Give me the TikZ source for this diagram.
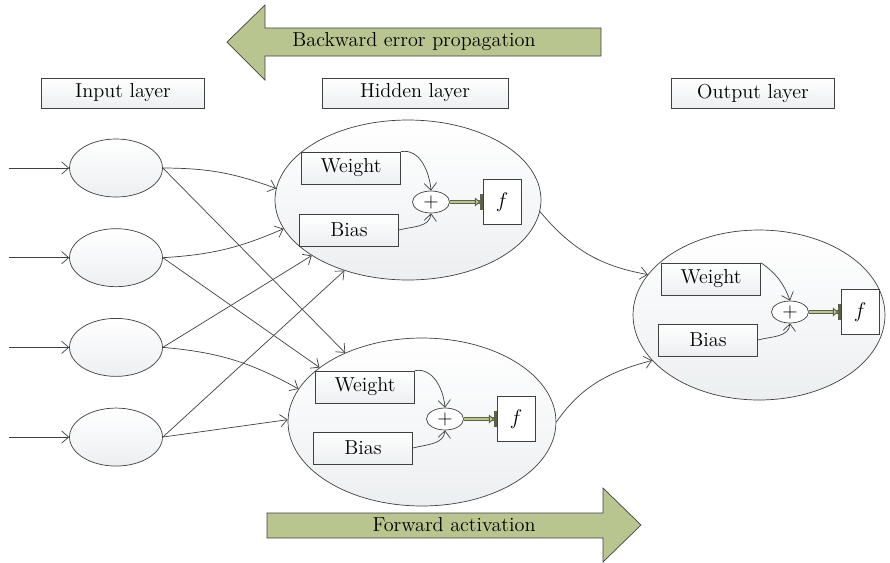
\documentclass[tikz,border=0pt]{standalone}
\usepackage{xcolor}
\definecolor{olive_arrow}{RGB}{185,197,143}
\definecolor{line_gray}{RGB}{64,64,64}
\definecolor{fill_gray}{RGB}{236,239,241}
\usepackage{tikz}
\usetikzlibrary{arrows.meta,positioning,shapes.geometric}

\begin{document}
\begin{tikzpicture}
[	x=0.02cm, y=-0.02cm,
	font=\fontsize{11.5}{13}\selectfont,
	unit/.style = {ellipse, draw=line_gray, top color=white, bottom color=fill_gray, inner sep=0},
	box/.style = {rectangle, draw=line_gray, top color=white, bottom color=fill_gray, minimum width=1.98cm, minimum height=0.64cm, inner sep=0},
	layerbox/.style = {box, minimum width=3.26cm, minimum height=0.6cm},
	sum/.style = {ellipse, draw=line_gray, fill=white, minimum width=0.74cm, minimum height=0.44cm, inner sep=0},
	fbox/.style = {rectangle, draw=line_gray, fill=white, minimum width=0.76cm, minimum height=0.9cm, inner sep=0},
	link/.style = {draw=line_gray, -{Straight Barb[length=4pt,width=7pt]}},
	feed/.style = {draw=olive_arrow!50!black, double=olive_arrow, double distance=0.9pt, line width=0.5pt, -{Triangle[length=3pt,width=5pt,fill=olive_arrow] Bar[width=9pt,length=1.5pt,line width=1.2pt]}},
	bigarrow/.style = {draw=line_gray, fill=olive_arrow}
]
\useasboundingbox (0,0) rectangle (890,562);

\draw[bigarrow] (601,28) -- (265,28) -- (265,5) -- (227,42) -- (265,80) -- (265,56) -- (601,56) -- cycle;
\node (back) at (414,42) {Backward error propagation};
\draw[bigarrow] (267,513) -- (603,513) -- (603,488) -- (641,525) -- (603,562) -- (603,538) -- (267,538) -- cycle;
\node (fwd) at (454,525) {Forward activation};

\node[layerbox] (inlabel) at (123,93) {Input layer};
\node[layerbox, minimum width=3.72cm] (hidlabel) at (415,93) {Hidden layer};
\node[layerbox] (outlabel) at (753,93) {Output layer};

\node[unit, minimum width=1.86cm, minimum height=1.16cm] (in1) at (116,168) {};
\node[unit, minimum width=1.86cm, minimum height=1.16cm, below=0.62cm of in1] (in2) {};
\node[unit, minimum width=1.86cm, minimum height=1.16cm, below=0.62cm of in2] (in3) {};
\node[unit, minimum width=1.86cm, minimum height=1.16cm, below=0.62cm of in3] (in4) {};

\node[unit, minimum width=5.32cm, minimum height=3.2cm] (h1) at (408,200) {};
\node[unit, minimum width=5.36cm, minimum height=3.36cm] (h2) at (422,422) {};
\node[unit, minimum width=5.04cm, minimum height=3.4cm] (out) at (759,315) {};

\node[box] (w1) at (351,168) {Weight};
\node[box] (b1) at (349,230) {Bias};
\node[sum] (p1) at (431,202) {+};
\node[fbox, right=0.66cm of p1] (f1) {$f$};

\node[box] (w2) at (365,387) {Weight};
\node[box] (b2) at (363,448) {Bias};
\node[sum] (p2) at (445,419) {+};
\node[fbox, right=0.66cm of p2] (f2) {$f$};

\node[box] (w3) at (711,279) {Weight};
\node[box] (b3) at (708,340) {Bias};
\node[sum] (p3) at (790,312) {+};
\node[fbox, right=0.64cm of p3] (f3) {$f$};

\coordinate[left=1.2cm of in1.west] (s1);
\coordinate[left=1.2cm of in2.west] (s2);
\coordinate[left=1.2cm of in3.west] (s3);
\coordinate[left=1.2cm of in4.west] (s4);

\draw[link] (s1) -- (in1);
\draw[link] (s2) -- (in2);
\draw[link] (s3) -- (in3);
\draw[link] (s4) -- (in4);

\draw[link] (in1.east) to[bend left=10] (h1.175);
\draw[link] (in1.east) -- (h2.138);
\draw[link] (in2.east) to[bend right=10] (h1.193);
\draw[link] (in2.east) -- (h2.152);
\draw[link] (in3.east) -- (h1.210);
\draw[link] (in3.east) to[bend left=12] (h2.165);
\draw[link] (in4.east) -- (h1.228);
\draw[link] (in4.east) -- (h2.179);

\draw[link] (w1.north east) to[out=10,in=95] (p1.north);
\draw[link] (b1.east) to[out=15,in=-95] (p1.south);
\draw[feed] (p1) -- (f1);
\draw[link] (w2.north east) to[out=10,in=95] (p2.north);
\draw[link] (b2.east) to[out=15,in=-95] (p2.south);
\draw[feed] (p2) -- (f2);
\draw[link] (w3.north east) to[out=-35,in=110] (p3.north);
\draw[link] (b3.east) to[out=15,in=-95] (p3.south);
\draw[feed] (p3) -- (f3);

\draw[link] (h1.355) to[out=-50,in=170] (out.160);
\draw[link] (h2.east) to[out=55,in=195] (out.203);

\end{tikzpicture}
\end{document}
